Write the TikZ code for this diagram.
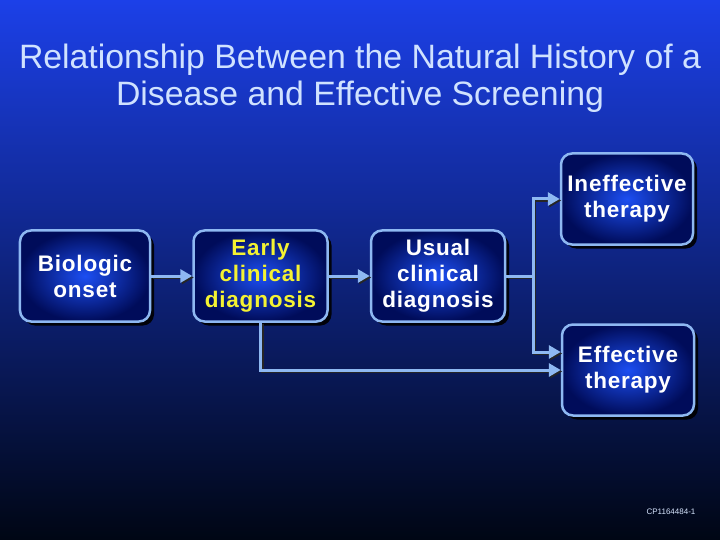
\documentclass[tikz,border=0pt]{standalone}
\usepackage{fontspec}
\setmainfont{Liberation Sans}
\usetikzlibrary{arrows.meta,positioning,shadows}
\definecolor{bgtop}{HTML}{1C40E8}
\definecolor{bgmid}{HTML}{0A2CA6}
\definecolor{bgbot}{HTML}{000614}
\definecolor{edgeblue}{HTML}{8EB8F2}
\definecolor{boxin}{HTML}{1C4EF2}
\definecolor{boxout}{HTML}{000C5A}
\definecolor{titleblue}{HTML}{D0E2FF}
\definecolor{earlyyellow}{HTML}{F4F232}

\begin{document}
\begin{tikzpicture}[x=1bp,y=-1bp,node distance=41bp,
    box/.style={draw=edgeblue,line width=2.5bp,rounded corners=11bp,
    inner color=boxin,outer color=boxout,minimum width=132bp,minimum height=91bp,
    align=center,text=white,
    font=\fontsize{22.5bp}{26bp}\selectfont\bfseries\addfontfeature{LetterSpace=3.5},
    drop shadow={shadow xshift=4bp,shadow yshift=-4bp,opacity=.9,fill=black}},
    link/.style={line width=3bp,draw=edgeblue,
    preaction={draw=black!85,line width=3bp,transform canvas={shift={(1.5bp,-1.5bp)}}}},
    arr/.style={link,-{Triangle[length=12bp,width=13bp]}}]
    \useasboundingbox (0,0) rectangle (720,540);
    \fill[top color=bgtop,middle color=bgmid,bottom color=bgbot] (0,0) rectangle (720,540);
    % title
    \node[text=titleblue,font=\fontsize{33.8bp}{37bp}\selectfont,align=center] (title) at (360,78)
      {Relationship Between the Natural History of a\\Disease and Effective Screening};
    % boxes
    \node[box,minimum width=130bp] (bio) at (85,276) {Biologic\\onset};
    \node[box,right=of bio,text=earlyyellow,minimum width=134bp] (early) {Early\\clinical\\diagnosis};
    \node[box,right=of early,minimum width=134bp] (usual) {Usual\\clinical\\diagnosis};
    \node[box] (ineff) at (627,199) {Ineffective\\therapy};
    \node[box] (eff) at (628,370) {Effective\\therapy};
    % connectors
    \coordinate (split) at ([xshift=27bp]usual.east);
    \draw[arr] (bio) -- (early);
    \draw[arr] (early) -- (usual);
    \draw[link] (usual.east) -- (split);
    \draw[arr] (split) |- (ineff.west);
    \draw[arr] (split) |- ([yshift=18bp]eff.west);
    \draw[arr] (early.south) |- (eff.west);
    \node[text=titleblue!85,font=\fontsize{8bp}{9bp}\selectfont] (code) at (671,512) {CP1164484-1};
\end{tikzpicture}
\end{document}
